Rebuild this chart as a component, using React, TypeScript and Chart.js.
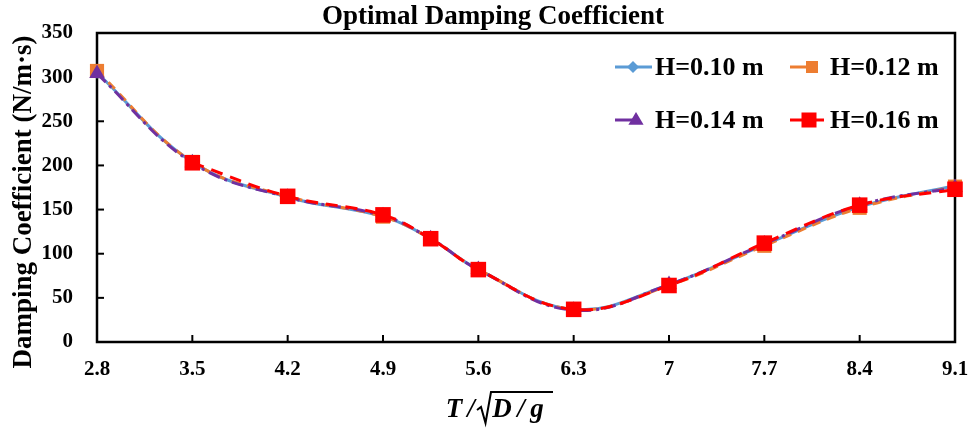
import React, { useEffect, useRef } from 'react';
import { Chart, registerables } from 'chart.js';

Chart.register(...registerables);

// ---- data ----
const xValues = [2.8, 3.5, 4.2, 4.9, 5.25, 5.6, 6.3, 7, 7.7, 8.4, 9.1];
const xTickValues = [2.8, 3.5, 4.2, 4.9, 5.6, 6.3, 7, 7.7, 8.4, 9.1];
const xTickLabels = ['2.8', '3.5', '4.2', '4.9', '5.6', '6.3', '7', '7.7', '8.4', '9.1'];
const yTickValues = [0, 50, 100, 150, 200, 250, 300, 350];
const seriesNames = ['H=0.10 m', 'H=0.12 m', 'H=0.14 m', 'H=0.16 m'];
const h010 = [305, 204, 164, 142, 117, 82, 37, 65, 110, 153, 177];
const h012 = [307, 204, 165, 142, 117, 82, 37, 64, 109, 152, 176];
const h014 = [304, 203, 164, 143, 117, 82, 36, 65, 111, 155, 175];
const h016 = [null, 203, 165, 144, 117, 82, 37, 64, 112, 155, 173];
const chartTitle = 'Optimal Damping Coefficient';
const yTitle = 'Damping Coefficient (N/m\u00B7s)';

const SERIF = '"Liberation Serif", "Times New Roman", serif';
const COLORS = ['#5B9BD5', '#ED7D31', '#7030A0', '#FF0000'];

const toPoints = (ys: (number | null)[]) => xValues.map((x, i) => ({ x, y: ys[i] }));

function drawSquare(ctx: CanvasRenderingContext2D, x: number, y: number, s: number, c: string) {
  ctx.fillStyle = c;
  ctx.fillRect(x - s / 2, y - s / 2, s, s);
}
function drawDiamond(ctx: CanvasRenderingContext2D, x: number, y: number, r: number, c: string) {
  ctx.fillStyle = c;
  ctx.beginPath();
  ctx.moveTo(x, y - r);
  ctx.lineTo(x + r, y);
  ctx.lineTo(x, y + r);
  ctx.lineTo(x - r, y);
  ctx.closePath();
  ctx.fill();
}
function drawTriangle(ctx: CanvasRenderingContext2D, x: number, y: number, r: number, c: string) {
  ctx.fillStyle = c;
  ctx.beginPath();
  ctx.moveTo(x, y - r);
  ctx.lineTo(x + r * 0.95, y + r * 0.6);
  ctx.lineTo(x - r * 0.95, y + r * 0.6);
  ctx.closePath();
  ctx.fill();
}

const decor = {
  id: 'decor',
  beforeDraw(chart: any) {
    const { ctx } = chart;
    ctx.save();
    ctx.fillStyle = '#fff';
    ctx.fillRect(0, 0, chart.width, chart.height);
    ctx.restore();
  },
  beforeDatasetsDraw(chart: any) {
    const { ctx, chartArea: a } = chart;
    ctx.save();
    ctx.strokeStyle = '#000';
    ctx.lineWidth = 2.5;
    ctx.strokeRect(a.left, a.top, a.right - a.left, a.bottom - a.top);
    ctx.lineWidth = 2;
    const xs = chart.scales.x;
    const ys = chart.scales.y;
    for (const v of xTickValues) {
      const px = xs.getPixelForValue(v);
      ctx.beginPath();
      ctx.moveTo(px, a.bottom);
      ctx.lineTo(px, a.bottom - 7);
      ctx.stroke();
    }
    for (const v of yTickValues) {
      const py = ys.getPixelForValue(v);
      ctx.beginPath();
      ctx.moveTo(a.left, py);
      ctx.lineTo(a.left + 7, py);
      ctx.stroke();
    }
    ctx.restore();
  },
  afterDraw(chart: any) {
    const { ctx } = chart;
    ctx.save();
    ctx.fillStyle = '#000';
    // title
    ctx.font = `bold 27px ${SERIF}`;
    ctx.textAlign = 'center';
    ctx.textBaseline = 'middle';
    ctx.fillText(chartTitle, 493, 17);

    // y title
    ctx.save();
    ctx.translate(24, 202);
    ctx.rotate(-Math.PI / 2);
    ctx.font = `bold 27px ${SERIF}`;
    ctx.fillText(yTitle, 0, 0);
    ctx.restore();

    // x title: T/sqrt(D/g)
    ctx.font = `italic bold 27px ${SERIF}`;
    ctx.textAlign = 'center';
    ctx.textBaseline = 'alphabetic';
    const by = 417;
    ctx.fillText('T', 454, by);
    ctx.fillText('/', 471, by);
    ctx.fillText('D', 502, by);
    ctx.fillText('/', 521, by);
    ctx.fillText('g', 537, by);
    ctx.strokeStyle = '#000';
    ctx.lineWidth = 2;
    ctx.beginPath();
    ctx.moveTo(477, 410);
    ctx.lineTo(481, 407);
    ctx.lineTo(485.5, 423);
    ctx.lineTo(491, 392);
    ctx.lineTo(553, 392);
    ctx.stroke();

    // legend
    ctx.font = `bold 26px ${SERIF}`;
    ctx.textBaseline = 'middle';
    ctx.textAlign = 'left';
    const rows = [67, 120];
    ctx.lineWidth = 3;
    // blue
    ctx.strokeStyle = COLORS[0];
    ctx.beginPath(); ctx.moveTo(615, rows[0]); ctx.lineTo(652, rows[0]); ctx.stroke();
    drawDiamond(ctx, 633, rows[0], 6, COLORS[0]);
    ctx.fillStyle = '#000';
    ctx.fillText(seriesNames[0], 655, rows[0] + 1);
    // orange
    ctx.strokeStyle = COLORS[1];
    ctx.beginPath(); ctx.moveTo(790, rows[0]); ctx.lineTo(810, rows[0]); ctx.stroke();
    drawSquare(ctx, 812, rows[0], 12, COLORS[1]);
    ctx.fillStyle = '#000';
    ctx.fillText(seriesNames[1], 830, rows[0] + 1);
    // purple
    ctx.strokeStyle = COLORS[2];
    ctx.beginPath(); ctx.moveTo(615, rows[1]); ctx.lineTo(633, rows[1]); ctx.stroke();
    drawTriangle(ctx, 636, rows[1], 8, COLORS[2]);
    ctx.fillStyle = '#000';
    ctx.fillText(seriesNames[2], 655, rows[1] + 1);
    // red
    ctx.strokeStyle = COLORS[3];
    ctx.beginPath(); ctx.moveTo(790, rows[1]); ctx.lineTo(824, rows[1]); ctx.stroke();
    drawSquare(ctx, 809, rows[1], 15, COLORS[3]);
    ctx.fillStyle = '#000';
    ctx.fillText(seriesNames[3], 830, rows[1] + 1);

    ctx.restore();
  },
};

export default function App() {
  const ref = useRef<HTMLCanvasElement | null>(null);
  useEffect(() => {
    if (!ref.current) return;
    const chart = new Chart(ref.current, {
      type: 'line',
      data: {
        datasets: [
          {
            label: seriesNames[0],
            data: toPoints(h010),
            borderColor: COLORS[0],
            backgroundColor: COLORS[0],
            borderWidth: 3,
            pointStyle: 'rectRot',
            pointRadius: 6,
            pointBorderWidth: 0,
            tension: 0.4,
            order: 4,
            clip: false,
          },
          {
            label: seriesNames[1],
            data: toPoints(h012),
            borderColor: COLORS[1],
            backgroundColor: COLORS[1],
            borderWidth: 3,
            borderDash: [9, 7],
            pointStyle: 'rect',
            pointRadius: 10,
            pointBorderWidth: 0,
            tension: 0.4,
            order: 3,
            clip: false,
          },
          {
            label: seriesNames[2],
            data: toPoints(h014),
            borderColor: COLORS[2],
            backgroundColor: COLORS[2],
            borderWidth: 3,
            borderDash: [12, 5, 3, 5],
            pointStyle: 'triangle',
            pointRadius: 9,
            pointBorderWidth: 0,
            tension: 0.4,
            order: 2,
            clip: false,
          },
          {
            label: seriesNames[3],
            data: toPoints(h016),
            borderColor: COLORS[3],
            backgroundColor: COLORS[3],
            borderWidth: 3,
            borderDash: [12, 8],
            pointStyle: 'rect',
            pointRadius: 11,
            pointBorderWidth: 0,
            tension: 0.4,
            spanGaps: true,
            order: 1,
            clip: false,
          },
        ],
      },
      options: {
        animation: false,
        responsive: false,
        maintainAspectRatio: false,
        layout: { padding: { top: 33, right: 16, left: 0, bottom: 0 } },
        plugins: {
          legend: { display: false },
          title: { display: false },
          tooltip: { enabled: false },
        },
        scales: {
          x: {
            type: 'linear',
            min: 2.8,
            max: 9.1,
            grid: { display: false, drawTicks: false },
            border: { display: false },
            afterBuildTicks: (scale: any) => {
              scale.ticks = xTickValues.map((v) => ({ value: v }));
            },
            afterFit: (scale: any) => {
              scale.height = 87;
              scale.paddingLeft = 0;
              scale.paddingRight = 0;
            },
            ticks: {
              autoSkip: false,
              maxRotation: 0,
              padding: 15,
              color: '#000',
              font: { family: SERIF, size: 21, weight: 'bold' },
              callback: (v: any) => {
                const i = xTickValues.findIndex((t) => Math.abs(t - v) < 1e-6);
                return i >= 0 ? xTickLabels[i] : '';
              },
            },
          },
          y: {
            type: 'linear',
            min: 0,
            max: 350,
            grid: { display: false, drawTicks: false },
            border: { display: false },
            afterBuildTicks: (scale: any) => {
              scale.ticks = yTickValues.map((v) => ({ value: v }));
            },
            afterFit: (scale: any) => {
              scale.width = 97;
              scale.paddingTop = 0;
              scale.paddingBottom = 0;
            },
            ticks: {
              padding: 24,
              color: '#000',
              font: { family: SERIF, size: 21, weight: 'bold' },
            },
          },
        },
      },
      plugins: [decor],
    } as any);
    return () => chart.destroy();
  }, []);
  return (
    <div style={{ position: 'fixed', left: 0, top: 0, width: 971, height: 429 }}>
      <canvas ref={ref} width={971} height={429} style={{ width: 971, height: 429 }} />
    </div>
  );
}
